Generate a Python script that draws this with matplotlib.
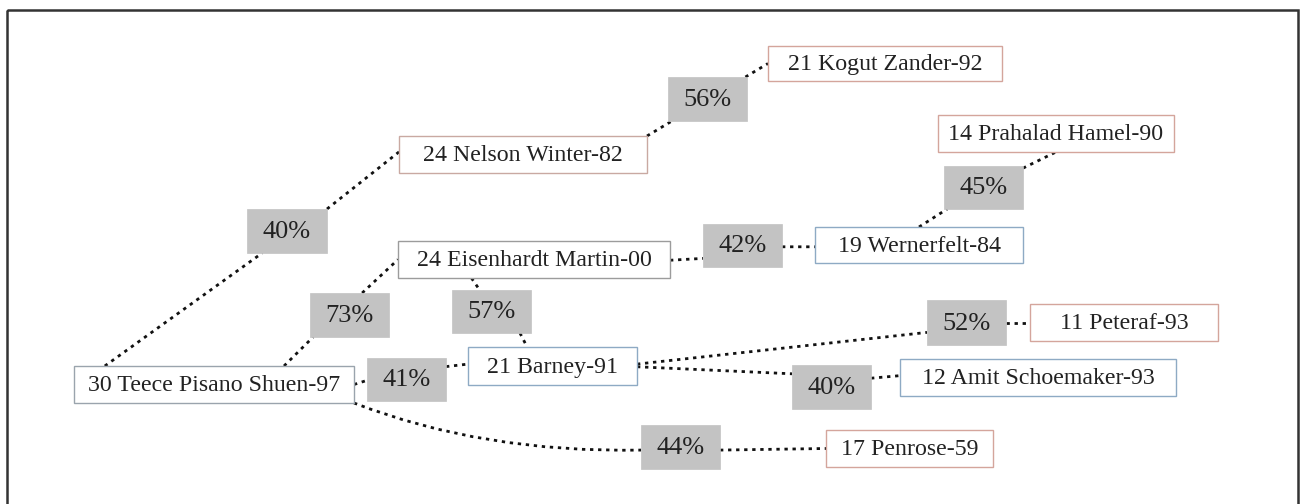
import matplotlib
matplotlib.use("Agg")
import matplotlib.pyplot as plt
from matplotlib.patches import Rectangle, PathPatch
from matplotlib.path import Path

# ---------------- data ----------------
node_names = [
    "30 Teece Pisano Shuen-97",
    "24 Nelson Winter-82",
    "21 Kogut Zander-92",
    "24 Eisenhardt Martin-00",
    "19 Wernerfelt-84",
    "14 Prahalad Hamel-90",
    "21 Barney-91",
    "11 Peteraf-93",
    "12 Amit Schoemaker-93",
    "17 Penrose-59",
]
edge_sources = [0, 0, 0, 0, 1, 3, 3, 4, 6, 6]
edge_targets = [1, 3, 6, 9, 2, 4, 6, 5, 7, 8]
edge_percent = [40, 73, 41, 44, 56, 42, 57, 45, 52, 40]

# ---------------- layout (pixel space, y downwards) ----------------
node_boxes = [
    (74, 366, 354, 403),
    (399, 136, 647, 173),
    (768, 46, 1002, 81),
    (398, 241, 670, 278),
    (815, 227, 1023, 263),
    (938, 115, 1174, 152),
    (468, 347, 637, 385),
    (1030, 304, 1218, 341),
    (900, 359, 1176, 396),
    (826, 430, 993, 467),
]
node_edge_colors = ["#9aa4ad", "#c9a9a2", "#d4a59c", "#9c9c9c", "#8eaac4",
                    "#d4a59c", "#8eaac4", "#d4a59c", "#8eaac4", "#d4a59c"]
label_boxes = [
    (247, 209, 327, 253),
    (310, 293, 389, 337),
    (367, 358, 446, 401),
    (641, 425, 720, 469),
    (668, 77, 747, 121),
    (703, 224, 782, 267),
    (452, 290, 531, 333),
    (944, 166, 1023, 209),
    (927, 300, 1006, 345),
    (792, 365, 871, 409),
]
# attachment fractions (fx, fy) on boxes: src->label, label->tgt
att_src = [(0.11, 0), (0.75, 0), (1, 0.5), (1, 1.0), (1, 0.0),
           (1, 0.52), (0.27, 1), (0.5, 0), (1, 0.45), (1, 0.52)]
att_lab_in = [(0.19, 1), (0.04, 1), (0, 0.52), (0, 0.57), (0.05, 1),
              (0, 0.8), (0.35, 0), (0.04, 1), (0, 0.72), (0, 0.2)]
att_lab_out = [(1, 0), (0.66, 0), (1, 0.2), (1, 0.57), (0.98, 0),
               (1, 0.53), (0.86, 1), (1, 0.05), (1, 0.5), (1, 0.3)]
att_tgt = [(0, 0.43), (0, 0.5), (0, 0.45), (0, 0.5), (0, 0.5),
           (0, 0.55), (0.35, 0), (0.5, 1), (0, 0.5), (0, 0.45)]
curved = [False, False, False, True, False, False, False, False, False, False]


def pt(box, f):
    x0, y0, x1, y1 = box
    return (x0 + f[0] * (x1 - x0), y0 + f[1] * (y1 - y0))


fig = plt.figure(figsize=(13.03, 5.04), dpi=100)
ax = fig.add_axes([0, 0, 1, 1])
ax.set_xlim(0, 1303)
ax.set_ylim(504, 0)
ax.axis("off")

# outer frame
ax.add_patch(Rectangle((7, 10), 1291, 500, fill=False, edgecolor="#333333",
                       linewidth=1.8, zorder=1))

dots = dict(color="#111111", linewidth=2.0, linestyle=(0, (1.2, 1.7)),
            solid_capstyle="butt", dash_capstyle="butt", zorder=2)

for i in range(len(edge_percent)):
    sb = node_boxes[edge_sources[i]]
    tb = node_boxes[edge_targets[i]]
    lb = label_boxes[i]
    p0 = pt(sb, att_src[i])
    p1 = pt(lb, att_lab_in[i])
    p2 = pt(lb, att_lab_out[i])
    p3 = pt(tb, att_tgt[i])
    if curved[i]:
        cx = 0.55 * p0[0] + 0.45 * p1[0]
        cy = p1[1] + 3
        path = Path([p0, (cx, cy), p1], [Path.MOVETO, Path.CURVE3, Path.CURVE3])
        ax.add_patch(PathPatch(path, fill=False, edgecolor=dots["color"],
                               linewidth=dots["linewidth"],
                               linestyle=dots["linestyle"], zorder=2))
    else:
        ax.plot([p0[0], p1[0]], [p0[1], p1[1]], **dots)
    ax.plot([p2[0], p3[0]], [p2[1], p3[1]], **dots)

    x0, y0, x1, y1 = lb
    ax.add_patch(Rectangle((x0, y0), x1 - x0, y1 - y0, facecolor="#c3c3c3",
                           edgecolor="#c3c3c3", linewidth=0.5, zorder=3))
    ax.text((x0 + x1) / 2, (y0 + y1) / 2 + 1, f"{edge_percent[i]}%",
            ha="center", va="center", fontsize=19,
            family="Liberation Serif", color="#222222", zorder=4)

for name, box, ec in zip(node_names, node_boxes, node_edge_colors):
    x0, y0, x1, y1 = box
    ax.add_patch(Rectangle((x0, y0), x1 - x0, y1 - y0, facecolor="white",
                           edgecolor=ec, linewidth=1.0, zorder=3))
    ax.text((x0 + x1) / 2, (y0 + y1) / 2 + 1, name, ha="center", va="center",
            fontsize=17.2, family="Liberation Serif", color="#222222", zorder=4)

fig.savefig("out.png", dpi=100)
